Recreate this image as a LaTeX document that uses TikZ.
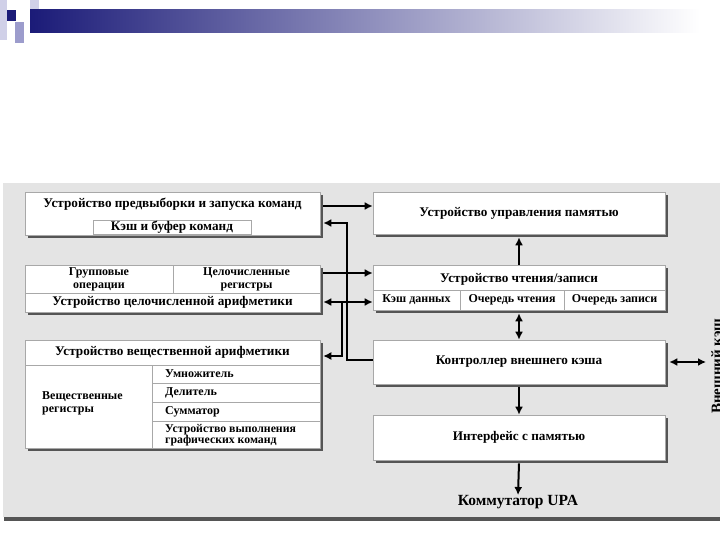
\documentclass[tikz,border=0pt]{standalone}
\usepackage{fontspec}
\setmainfont{Liberation Serif}
\usetikzlibrary{arrows.meta,shadows}

\definecolor{panelgray}{HTML}{E4E4E4}
\definecolor{shadowgray}{HTML}{555555}
\definecolor{linegray}{HTML}{A8A8A8}
\definecolor{navy}{HTML}{1B1B78}
\definecolor{midbar}{HTML}{9A9AB4}
\definecolor{lavender}{HTML}{9C9CCC}
\definecolor{palelav}{HTML}{D0D0E8}

\tikzset{
  box/.style={draw=linegray, fill=white, line width=0.6pt, inner sep=0pt,
    drop shadow={shadow xshift=3pt, shadow yshift=-3pt, fill=shadowgray, opacity=1}},
  cell/.style={draw=linegray, line width=0.6pt, inner sep=0pt},
  lbl/.style={font=\bfseries\fontsize{13.2}{14}\selectfont, inner sep=0pt},
  small/.style={font=\bfseries\fontsize{12}{13}\selectfont, inner sep=0pt, align=center},
  link/.style={line width=2pt, -{Latex[length=8pt,width=8pt]}},
  bilink/.style={line width=2pt, {Latex[length=8pt,width=8pt]}-{Latex[length=8pt,width=8pt]}},
  thin link/.style={line width=1.3pt, -{Latex[length=8pt,width=8pt]}}
}

\begin{document}
\begin{tikzpicture}[x=1pt,y=-1pt]
  \useasboundingbox (0,0) rectangle (720,540);
  \clip (0,0) rectangle (720,540);

  % slide decoration
  \fill[palelav] (0,0) rectangle (7,40);
  \fill[navy] (7,10) rectangle (16,21);
  \fill[palelav] (30,0) rectangle (39,20);
  \fill[lavender] (15,22) rectangle (24,43);
  \shade[left color=navy, middle color=midbar, right color=white] (30,10) rectangle (700,33);

  % panel
  \fill[panelgray] (3,183) rectangle (720,517);
  \fill[shadowgray] (4,517) rectangle (720,521);

  % left column
  \node[box, minimum width=295pt, minimum height=43pt] (fetch) at (172.5,213.5) {};
  \node[lbl] (fetchT) at (172.5,204) {Устройство предвыборки и запуска команд};
  \node[cell, minimum width=158pt, minimum height=14pt] (icache) at (172,227) {};
  \node[lbl] at (icache) {Кэш и буфер команд};

  \node[box, minimum width=295pt, minimum height=47pt] (ialu) at (172.5,288.5) {};
  \node[cell, small, minimum width=148pt, minimum height=28pt] (grp) at (99,279)
    {Групповые\\операции};
  \node[cell, small, minimum width=147pt, minimum height=28pt] (ireg) at (246.5,279)
    {Целочисленные\\регистры};
  \node[lbl] (ialuT) at (172.5,302.5) {Устройство целочисленной арифметики};

  \node[box, minimum width=295pt, minimum height=108pt] (falu) at (172.5,394) {};
  \node[cell, minimum width=295pt, minimum height=25pt] (faluH) at (172.5,352.5) {};
  \node[lbl] at (faluH) {Устройство вещественной арифметики};
  \node[small, align=left, anchor=west] (freg) at (42,403) {Вещественные\\регистры};
  \node[cell, minimum width=168pt, minimum height=18pt] (mul) at (236,374) {};
  \node[cell, minimum width=168pt, minimum height=19pt] (div) at (236,392.5) {};
  \node[cell, minimum width=168pt, minimum height=19pt] (add) at (236,411.5) {};
  \node[cell, minimum width=168pt, minimum height=27pt] (gfx) at (236,434.5) {};
  \node[small, anchor=west] at (165,374) {Умножитель};
  \node[small, anchor=west] at (165,392.5) {Делитель};
  \node[small, anchor=west] at (165,411.5) {Сумматор};
  \node[small, font=\bfseries\fontsize{11.8}{11}\selectfont, align=left, anchor=west]
    at (165,435) {Устройство выполнения\\графических команд};

  % right column
  \node[box, lbl, minimum width=292pt, minimum height=42pt] (mmu) at (519,213) {Устройство управления памятью};

  \node[box, minimum width=292pt, minimum height=45pt] (lsu) at (519,287.5) {};
  \node[lbl] (lsuT) at (519,279) {Устройство чтения/записи};
  \node[cell, small, minimum width=87pt, minimum height=20pt] (dcache) at (416.5,300) {Кэш данных};
  \node[cell, small, minimum width=104pt, minimum height=20pt] (rq) at (512,300) {Очередь чтения};
  \node[cell, small, minimum width=101pt, minimum height=20pt] (wq) at (614.5,300) {Очередь записи};

  \node[box, lbl, minimum width=292pt, minimum height=44pt] (ecc) at (519,362) {Контроллер внешнего кэша};
  \node[box, lbl, minimum width=292pt, minimum height=45pt] (mif) at (519,437.5) {Интерфейс с памятью};
  \node[font=\bfseries\fontsize{15.5}{16}\selectfont, inner sep=0pt] (upa) at (518,502) {Коммутатор UPA};
  \node[font=\bfseries\fontsize{15}{15}\selectfont, rotate=90, anchor=north west, inner sep=0pt]
    (ext) at (711,414) {Внешний кэш};

  % connectors
  \coordinate (r1) at (347,206);
  \coordinate (busA) at (347,223);
  \coordinate (busB) at (347,360);
  \coordinate (r2) at (347,273);
  \coordinate (tapA) at (342,302);
  \coordinate (tapB) at (342,356);
  \coordinate (extE) at (706,362);

  \draw[link] ([xshift=3pt]fetch.east |- r1) -- (mmu.west |- r1);
  \draw[link] (ecc.west |- busB) -- (busB) -- (busA) -- ([xshift=3pt]fetch.east |- busA);
  \draw[link] ([xshift=3pt]ialu.east |- r2) -- (lsu.west |- r2);
  \draw[bilink] ([xshift=3pt]ialu.east |- tapA) -- (lsu.west |- tapA);
  \draw[thin link] (tapA) -- (tapB) -- ([xshift=3pt]falu.east |- tapB);
  \draw[link] (lsu.north) -- ([yshift=-3pt]mmu.south);
  \draw[bilink] ([yshift=-3pt]lsu.south) -- (ecc.north);
  \draw[link] ([yshift=-3pt]ecc.south) -- (mif.north);
  \draw[link] ([yshift=-3pt]mif.south) -- (upa.north);
  \draw[bilink] ([xshift=4pt]ecc.east) -- (extE);
\end{tikzpicture}
\end{document}
